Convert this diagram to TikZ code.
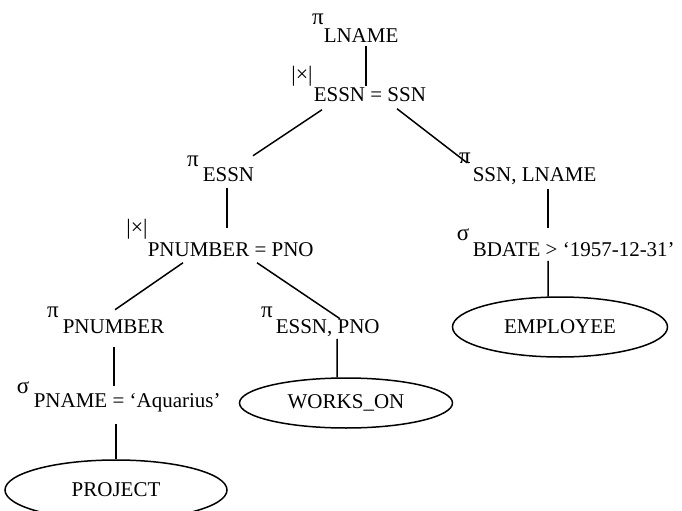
\documentclass[tikz,border=0pt]{standalone}
\usepackage{fontspec}
\setmainfont{Liberation Serif}
\usetikzlibrary{shapes.geometric}
\begin{document}
\begin{tikzpicture}[x=1bp,y=-1bp,line width=1.5bp,
  lbl/.style={inner sep=0pt,anchor=base west,text height=14bp,text depth=0bp,
    font=\fontsize{21bp}{25bp}\selectfont},
  opsym/.style={inner sep=0pt,font=\fontsize{23bp}{25bp}\selectfont},
  selsym/.style={inner sep=0pt,font=\fontsize{23bp}{25bp}\selectfont},
  joinsym/.style={inner sep=0pt,font=\fontsize{22bp}{24bp}\selectfont},
  rel/.style={draw,ellipse,inner sep=0pt,font=\fontsize{21bp}{25bp}\selectfont}]
\useasboundingbox (0,0) rectangle (682,511);

% operators: symbol above-left, condition / attribute list as subscript
\node[opsym]   (pL) at (318,19)  {π};
\node[lbl]     (tL) at (323,43)  {LNAME};
\node[joinsym] (jA) at (302,76)  {|×|};
\node[lbl]     (tJA) at (313,102) {ESSN = SSN};
\node[opsym]   (pE) at (193,161) {π};
\node[lbl]     (tE) at (202,182) {ESSN};
\node[opsym]   (pS) at (465,158) {π};
\node[lbl]     (tS) at (472,182) {SSN, LNAME};
\node[joinsym] (jB) at (137,229) {|×|};
\node[lbl]     (tJB) at (147,257) {PNUMBER = PNO};
\node[selsym]  (sB) at (463,235) {σ};
\node[lbl]     (tB) at (472,257) {BDATE > ‘1957-12-31’};
\node[opsym]   (pP) at (53,312)  {π};
\node[lbl]     (tP) at (62,333)  {PNUMBER};
\node[opsym]   (pW) at (267,312) {π};
\node[lbl]     (tW) at (275,333) {ESSN, PNO};
\node[selsym]  (sA) at (23,388)  {σ};
\node[lbl]     (tA) at (33,407)  {PNAME = ‘Aquarius’};

% base relations
\node[rel,minimum width=215bp,minimum height=60bp] (emp)  at (560,327) {EMPLOYEE};
\node[rel,minimum width=213bp,minimum height=50bp] (wo)   at (346,403) {WORKS\_ON};
\node[rel,minimum width=222bp,minimum height=60bp] (proj) at (116,490) {PROJECT};

% tree edges
\draw ([shift={(43,2)}]tL.south west)   -- ([shift={(53,-17)}]tJA.south west);
\draw ([shift={(9,7)}]tJA.south west)   -- ([shift={(51,-27)}]tE.south west);
\draw ([shift={(84,6)}]tJA.south west)  -- ([shift={(-5,-20)}]tS.south west);
\draw ([shift={(25,5)}]tE.south west)   -- ([shift={(80,-30)}]tJB.south west);
\draw ([shift={(36,5)}]tJB.south west)  -- ([shift={(53,-24)}]tP.south west);
\draw ([shift={(110,5)}]tJB.south west) -- ([shift={(65,-15)}]tW.south west);
\draw ([shift={(52,13)}]tP.south west)  -- ([shift={(81,-22)}]tA.south west);
\draw ([shift={(83,16)}]tA.south west)  -- (proj.north);
\draw ([shift={(62,5)}]tW.south west)   -- ([xshift=-9bp]wo.north);
\draw ([shift={(76,6)}]tS.south west)   -- ([shift={(76,-30)}]tB.south west);
\draw ([shift={(76,3)}]tB.south west)   -- ([xshift=-12bp]emp.north);
\end{tikzpicture}
\end{document}
